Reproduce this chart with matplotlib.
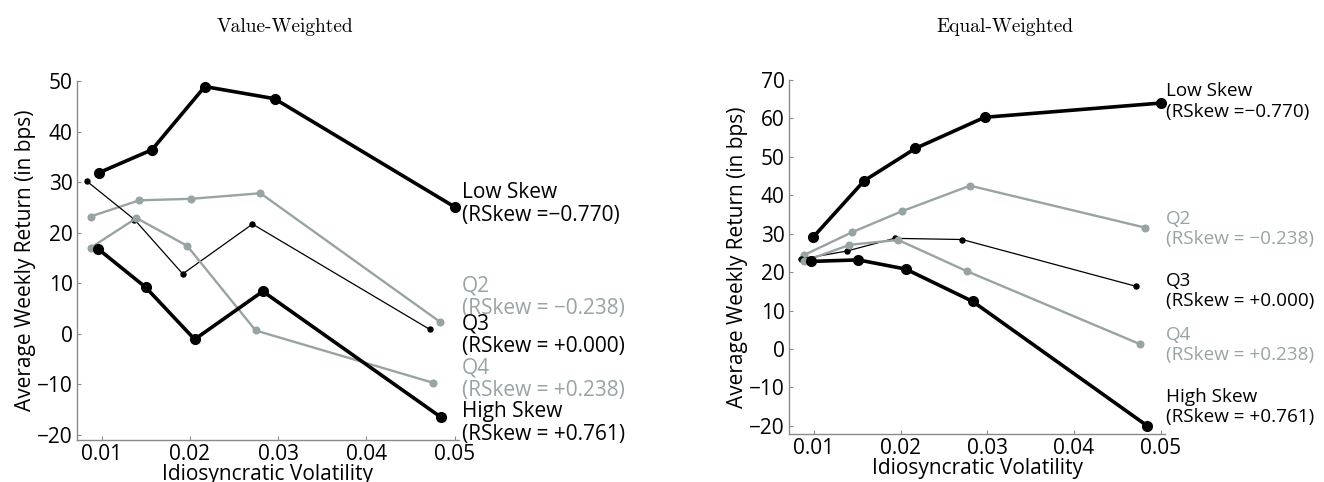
import matplotlib
matplotlib.use("Agg")
import matplotlib.pyplot as plt

plt.rcParams['font.family'] = ['Open Sans', 'DejaVu Sans']

# ---------------- data ----------------
series_names = ["Low Skew", "Q2", "Q3", "Q4", "High Skew"]
series_rskew = ["(RSkew =\u22120.770)", "(RSkew = \u22120.238)", "(RSkew = +0.000)",
                "(RSkew = +0.238)", "(RSkew = +0.761)"]

# Value-weighted panel
vw_low_x = [0.00976, 0.01571, 0.0217, 0.0296, 0.0500]
vw_low_y = [31.9, 36.4, 48.9, 46.5, 25.1]
vw_q2_x = [0.00875, 0.01427, 0.02017, 0.0280, 0.04832]
vw_q2_y = [23.2, 26.4, 26.7, 27.8, 2.4]
vw_q3_x = [0.00832, 0.01373, 0.0192, 0.0271, 0.0472]
vw_q3_y = [30.2, 22.6, 11.85, 21.7, 0.86]
vw_q4_x = [0.00875, 0.01396, 0.0197, 0.02746, 0.0476]
vw_q4_y = [17.0, 22.9, 17.4, 0.66, -9.7]
vw_high_x = [0.00957, 0.0150, 0.02055, 0.02827, 0.04846]
vw_high_y = [16.85, 9.2, -1.1, 8.4, -16.5]

# Equal-weighted panel
ew_low_x = [0.0099, 0.0158, 0.0217, 0.0297, 0.0500]
ew_low_y = [29.1, 43.8, 52.2, 60.3, 64.0]
ew_q2_x = [0.0088, 0.0144, 0.0202, 0.0280, 0.0482]
ew_q2_y = [24.4, 30.4, 35.9, 42.5, 31.6]
ew_q3_x = [0.00849, 0.0138, 0.0193, 0.0271, 0.0472]
ew_q3_y = [23.4, 25.5, 28.8, 28.5, 16.3]
ew_q4_x = [0.0088, 0.0141, 0.0197, 0.0276, 0.0476]
ew_q4_y = [22.8, 27.1, 28.4, 20.3, 1.3]
ew_high_x = [0.00966, 0.0151, 0.0206, 0.0283, 0.0484]
ew_high_y = [22.8, 23.2, 20.8, 12.4, -19.9]

x_ticks = [0.01, 0.02, 0.03, 0.04, 0.05]
x_ticklabels = ["0.01", "0.02", "0.03", "0.04", "0.05"]
vw_yticks = [-20, -10, 0, 10, 20, 30, 40, 50]
ew_yticks = [-20, -10, 0, 10, 20, 30, 40, 50, 60, 70]

titles = ["Value-Weighted", "Equal-Weighted"]
xlabel = "Idiosyncratic Volatility"
ylabel = "Average Weekly Return (in bps)"

# ---------------- style ----------------
BLACK = "#000000"
GRAY = "#98a3a3"
SPINE = "#8a8a8a"
FS = 15
styles = [
    dict(color=BLACK, lw=2.6, marker='o', ms=7),
    dict(color=GRAY, lw=1.7, marker='o', ms=4.8),
    dict(color=BLACK, lw=0.9, marker='o', ms=3.6),
    dict(color=GRAY, lw=1.7, marker='o', ms=4.8),
    dict(color=BLACK, lw=2.6, marker='o', ms=7),
]
text_colors = [BLACK, GRAY, BLACK, GRAY, BLACK]

fig = plt.figure(figsize=(13.24, 4.82), dpi=100)
W, H = 1324, 482


def make_axes(px_left, px_right, px_top, px_bottom):
    return fig.add_axes([px_left / W, 1 - px_bottom / H,
                         (px_right - px_left) / W, (px_bottom - px_top) / H])


ax1 = make_axes(77, 459, 81, 440)
ax2 = make_axes(789, 1165, 80, 434)

panels = [
    (ax1, [(vw_low_x, vw_low_y), (vw_q2_x, vw_q2_y), (vw_q3_x, vw_q3_y),
           (vw_q4_x, vw_q4_y), (vw_high_x, vw_high_y)],
     (0.00722, 0.0505), (-21.0, 50), vw_yticks, 0.0508,
     [25.7, 7.2, -0.3, -9.0, -17.6], 15),
    (ax2, [(ew_low_x, ew_low_y), (ew_q2_x, ew_q2_y), (ew_q3_x, ew_q3_y),
           (ew_q4_x, ew_q4_y), (ew_high_x, ew_high_y)],
     (0.00712, 0.0505), (-22.1, 70), ew_yticks, 0.0506,
     [64.4, 31.2, 15.1, 1.0, -15.0], 13.6),
]

for ax, data, xl, yl, yt, lab_x, lab_y, lab_fs in panels:
    for (xs, ys), st in zip(data, styles):
        ax.plot(xs, ys, color=st['color'], lw=st['lw'], marker=st['marker'],
                ms=st['ms'], mec=st['color'], mfc=st['color'], clip_on=False)
    ax.set_xlim(*xl)
    ax.set_ylim(*yl)
    ax.set_xticks(x_ticks)
    ax.set_xticklabels(x_ticklabels)
    ax.set_yticks(yt)
    for s in ['top', 'right']:
        ax.spines[s].set_visible(False)
    for s in ['left', 'bottom']:
        ax.spines[s].set_color(SPINE)
        ax.spines[s].set_linewidth(1.0)
    ax.tick_params(direction='in', length=3, width=0.8, color=SPINE,
                   labelsize=FS, labelcolor='black', pad=3)
    ax.set_xlabel(xlabel, fontsize=FS, labelpad=-1)
    ax.set_ylabel(ylabel, fontsize=FS, labelpad=1)
    for name, rs, c, yy in zip(series_names, series_rskew, text_colors, lab_y):
        ax.text(lab_x, yy, name + "\n" + rs, color=c, fontsize=lab_fs, ha='left',
                va='center', linespacing=1.15 if lab_fs < 15 else 1.1, clip_on=False)

fig.text(285 / W, 1 - 27 / H, titles[0], fontname='cmr10', fontsize=14,
         ha='center', va='center')
fig.text(1005 / W, 1 - 27 / H, titles[1], fontname='cmr10', fontsize=14,
         ha='center', va='center')

fig.savefig("out.png", dpi=100)
